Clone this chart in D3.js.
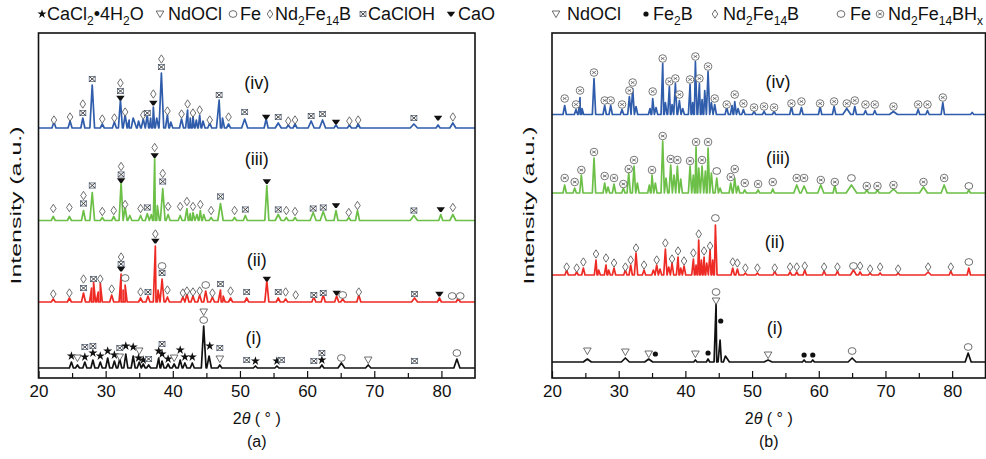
<!DOCTYPE html>
<html><head><meta charset="utf-8">
<script src="https://cdn.jsdelivr.net/npm/d3@7"></script>
<style>
body{margin:0;background:#fff;}
svg text{font-family:"Liberation Sans",Arial,sans-serif;fill:#111;}
</style></head><body>
<svg id="chart" width="986" height="459"></svg>
<script>
// x axis
const xTicks = [20, 30, 40, 50, 60, 70, 80];
const xMinor = [25, 35, 45, 55, 65, 75];
const traceNames = ["(i)", "(ii)", "(iii)", "(iv)"];
const traceColors = ["#111111", "#ee2a24", "#6cbf47", "#2f5cab"];

// vertical offsets of the stacked patterns (a.u.)
const offsetsA = [10, 76, 157.5, 250];
const offsetsB = [16, 103, 185, 263.5];

// peaks: [2theta, height, half width]
const peaksA1 = [[24.9,6],[25.8,3],[26.9,6],[28.1,8],[29.2,6],[30.3,10],[31.3,7],[32.1,9],[33.0,14],[34.1,12],[35.0,6],[35.6,4],[36.4,3],[37.9,10],[38.4,7],[39.3,4],[40.2,4],[41.1,8],[41.8,5],[42.9,5],[44.6,42,0.35],[45.4,12,0.35],[47.0,3],[52.3,2],[55.5,2],[62.2,3],[65.1,5,0.5],[69.1,3,0.4],[82.3,9,0.45]];
const peaksA2 = [[22.2,3],[24.6,4],[26.7,9],[27.9,14],[28.2,20],[28.9,10],[29.2,19],[30.9,7],[32.3,28],[32.6,12],[32.9,17],[35.2,4],[36.3,6],[37.4,56],[37.8,12],[38.4,23],[39.2,5],[41.5,5],[42.1,8],[43.0,6],[44.0,7],[44.9,11],[45.9,5],[47.1,12,0.35],[47.5,6],[48.6,4],[51.0,4],[54.0,21],[55.7,4],[56.8,3],[61.0,5],[62.4,7],[64.4,6],[65.3,3],[67.7,7],[76.0,4,0.45],[79.7,4],[82.5,4]];
const peaksA3 = [[22.2,4],[24.6,4],[26.7,10],[28.0,28,0.35],[29.5,3],[31.2,4],[32.3,38],[32.9,13],[33.6,5],[35.2,5],[36.2,7],[36.8,6],[37.3,62],[37.7,15],[38.5,32,0.35],[39.3,6],[41.1,5],[42.1,12],[42.6,7],[43.0,8],[43.6,6],[44.1,10],[44.6,6],[45.7,3],[47.1,17,0.4],[49.2,3],[50.8,5],[54.0,35],[55.7,6,0.45],[56.9,3],[58.2,3],[60.9,8,0.45],[62.4,9,0.45],[64.3,10],[66.2,3],[67.5,10],[75.9,5,0.55],[79.9,6],[81.7,6,0.45]];
const peaksA4 = [[22.3,6],[24.7,7],[26.6,10],[28.0,43,0.35],[29.5,4],[31.3,6],[32.2,28],[32.9,13],[33.5,8],[34.1,10,0.6],[34.9,7],[35.6,9],[36.2,13],[36.7,10],[37.1,21],[37.6,10],[38.3,55,0.35],[39.2,13],[39.7,6],[41.3,9],[42.2,18],[42.6,10],[43.0,12],[43.5,8],[44.0,13],[44.5,7],[45.5,5],[46.9,28,0.4],[47.4,10],[48.3,4],[50.7,9,0.45],[53.9,9],[55.7,5,0.45],[57.2,3],[58.2,4],[60.6,7,0.45],[62.3,8,0.45],[64.3,3],[66.3,3],[67.6,4],[75.9,4,0.55],[79.5,3],[81.7,5,0.45]];

const peaksB1 = [[25.3,3,0.6],[31.0,4,0.6],[34.5,3,0.6],[41.5,2],[43.4,3],[44.6,58,0.3],[45.2,22,0.5],[46.0,6,0.6],[52.4,2,0.6],[57.8,2],[59.1,2],[65.0,4,0.6],[82.4,9,0.45]];
const peaksB2 = [[22.2,5],[23.7,3],[24.7,7],[26.6,15],[27.0,5],[28.1,10],[28.5,5],[29.3,7],[31.0,5],[31.8,10],[32.6,22],[33.8,5],[35.2,5],[35.7,10],[36.2,6],[37.0,26],[37.5,8],[38.0,12],[38.9,18],[39.3,7],[39.8,9],[41.2,16],[41.6,10],[42.0,35],[42.4,15],[42.8,18],[43.2,12],[43.7,25],[44.1,15],[44.5,50],[47.1,7],[47.8,6],[49.0,2],[50.8,2],[53.4,4],[55.7,3],[56.7,3],[57.9,5],[60.8,4],[62.8,4],[65.2,5,0.45],[66.2,3],[67.7,2],[69.2,2],[71.9,2],[76.4,3,0.45],[79.8,4],[82.5,7]];
const peaksB3 = [[21.9,8],[23.4,5],[24.4,18],[26.3,35],[27.9,10],[28.4,6],[29.3,9],[30.7,5],[31.5,20],[32.3,27],[32.8,10],[34.6,8],[35.0,18],[35.5,10],[36.6,52],[37.1,15],[37.8,28],[38.3,18],[38.8,27],[39.3,14],[40.7,27],[41.2,18],[41.6,46],[42.0,25],[42.5,27],[43.0,22],[43.4,45],[43.9,20],[44.7,15],[45.2,5],[46.8,10],[47.4,15],[47.9,7],[48.9,3],[50.9,3],[53.1,4],[56.7,8,0.45],[57.8,7,0.45],[60.3,8,0.45],[62.4,8],[64.9,8,0.8],[67.2,4],[68.8,4],[71.2,4,0.6],[75.7,6,0.6],[78.8,8,0.45],[82.5,3]];
const peaksB4 = [[21.9,9],[23.6,5],[24.2,17],[24.5,6],[26.3,36],[27.9,9],[28.8,9],[30.5,5],[31.6,18],[32.1,26],[32.6,8],[34.7,6],[35.1,16],[35.6,7],[36.6,51],[37.0,12],[37.6,28],[38.0,10],[38.5,31],[39.1,14],[39.6,6],[40.7,30],[41.1,12],[41.5,53],[42.1,31],[42.5,15],[42.9,24],[43.4,43],[43.9,12],[44.4,10],[46.2,7],[47.0,9],[47.4,13],[47.9,6],[48.7,5],[50.3,3],[51.8,3],[53.3,3],[55.9,8],[57.4,7],[60.2,8],[62.3,8],[64.2,6,0.6],[65.4,8],[67.0,4],[68.4,4],[71.2,3,0.6],[74.9,5],[76.3,4],[78.6,12],[83.0,2]];

// phase marks: [2theta, height above pattern baseline, phase]
// S CaCl2·4H2O, T NdOCl, O Fe, D Nd2Fe14B, X CaClOH, V CaO, B Fe2B, H Nd2Fe14BHx
const marksA1 = [[24.9,12,"S"],[25.8,10,"T"],[26.9,11,"S"],[26.9,21,"X"],[28.1,15,"S"],[28.1,22,"X"],[29.2,12,"S"],[30.3,17,"S"],[31.3,13,"S"],[32.1,11,"T"],[32.1,20,"X"],[33.0,22,"S"],[34.1,21,"S"],[34.9,10,"S"],[35.0,17,"T"],[35.6,8,"S"],[36.4,9,"X"],[37.9,17,"S"],[38.4,14,"S"],[38.4,24,"X"],[39.3,9,"S"],[40.2,10,"T"],[41.1,18,"S"],[41.8,11,"S"],[42.9,11,"S"],[44.6,48,"O"],[44.6,56,"T"],[45.5,22,"S"],[47.0,9,"T"],[47.0,20,"X"],[51.0,8,"X"],[52.3,7,"S"],[55.5,7,"S"],[56.2,8,"X"],[61.0,7,"X"],[62.2,8,"S"],[62.2,15,"X"],[65.1,10,"O"],[69.1,8,"T"],[76.0,7,"X"],[82.3,15,"O"]];
const marksA2 = [[22.2,8,"D"],[24.6,9,"D"],[26.7,14,"X"],[26.7,23,"D"],[28.2,23,"X"],[29.2,23,"D"],[30.9,13,"D"],[32.3,33,"V"],[32.3,38,"X"],[32.3,45,"D"],[32.9,24,"O"],[35.2,10,"D"],[36.3,10,"X"],[37.4,61,"V"],[37.4,68,"D"],[38.4,29,"X"],[38.4,36,"O"],[39.2,12,"D"],[41.5,9,"D"],[42.1,11,"D"],[43.0,10,"D"],[44.0,11,"D"],[44.9,17,"O"],[45.9,9,"D"],[47.1,18,"X"],[48.6,11,"D"],[51.0,10,"X"],[54.0,23,"V"],[55.7,10,"X"],[56.8,10,"D"],[58.3,7,"D"],[61.0,7,"X"],[62.4,9,"X"],[64.4,9,"V"],[65.3,7,"O"],[67.7,10,"D"],[76.0,8,"X"],[79.7,8,"V"],[81.6,6,"O"],[82.8,6,"O"]];
const marksA3 = [[22.2,12,"D"],[24.6,13,"D"],[26.7,17,"X"],[26.7,25,"D"],[28.0,35,"X"],[29.5,9,"D"],[31.2,10,"D"],[32.3,40,"V"],[32.3,46,"X"],[32.3,54,"D"],[32.9,16,"D"],[35.2,12,"D"],[36.2,13,"X"],[37.3,65,"V"],[37.3,73,"D"],[38.5,39,"X"],[38.5,47,"D"],[39.3,14,"D"],[41.1,14,"D"],[42.1,19,"D"],[43.0,14,"D"],[44.1,16,"D"],[45.7,10,"D"],[47.1,24,"X"],[49.2,10,"D"],[50.8,11,"X"],[54.0,39,"V"],[55.7,11,"X"],[56.9,10,"D"],[58.2,9,"D"],[60.9,12,"X"],[62.4,13,"X"],[64.3,15,"V"],[66.2,8,"D"],[67.5,15,"D"],[75.9,10,"X"],[79.9,11,"V"],[81.7,13,"D"]];
const marksA4 = [[22.3,8,"D"],[24.7,11,"D"],[26.6,15,"X"],[26.6,24,"D"],[28.0,49,"X"],[29.5,9,"D"],[31.3,10,"D"],[32.2,30,"V"],[32.2,37,"X"],[32.2,45,"D"],[32.9,16,"D"],[35.6,13,"D"],[36.2,15,"X"],[37.1,25,"V"],[37.1,34,"D"],[38.3,61,"X"],[38.3,69,"D"],[39.2,17,"D"],[41.3,14,"D"],[42.2,24,"D"],[43.0,15,"D"],[44.0,18,"D"],[45.5,8,"D"],[46.9,33,"X"],[48.3,11,"D"],[50.7,16,"X"],[53.9,11,"V"],[55.7,11,"X"],[57.2,7,"D"],[58.2,8,"D"],[60.6,12,"X"],[62.3,14,"X"],[64.3,6,"V"],[66.3,7,"D"],[67.6,8,"D"],[75.9,10,"X"],[79.5,10,"V"],[81.7,11,"D"]];

const marksB1 = [[25.3,11,"T"],[31.0,10,"T"],[34.5,8,"T"],[35.5,8,"B"],[41.5,8,"T"],[43.4,9,"B"],[44.6,61,"T"],[44.6,70,"O"],[45.3,41,"B"],[52.4,7,"T"],[57.8,7,"B"],[59.1,7,"B"],[65.0,11,"O"],[82.4,15,"O"]];
const marksB2 = [[22.2,8,"D"],[23.7,7,"D"],[24.7,13,"D"],[26.6,21,"D"],[28.1,17,"D"],[29.3,12,"D"],[31.0,8,"D"],[31.8,15,"D"],[32.6,27,"D"],[33.8,10,"D"],[35.7,15,"D"],[37.0,32,"D"],[38.0,16,"D"],[38.9,24,"D"],[39.8,14,"D"],[41.2,22,"D"],[42.0,41,"D"],[42.8,24,"D"],[43.7,29,"D"],[44.5,57,"O"],[47.1,13,"D"],[47.8,12,"D"],[49.0,7,"D"],[50.8,7,"D"],[53.4,7,"D"],[55.7,8,"D"],[56.7,8,"D"],[57.9,9,"D"],[60.8,8,"D"],[62.8,8,"D"],[65.2,9,"O"],[66.2,9,"D"],[67.7,6,"D"],[69.2,8,"D"],[71.9,6,"D"],[76.4,8,"D"],[79.8,8,"D"],[82.5,13,"O"]];
const marksB3 = [[21.9,15,"H"],[23.4,11,"H"],[24.4,23,"H"],[26.3,41,"H"],[27.9,17,"H"],[29.3,15,"H"],[30.7,9,"H"],[31.5,24,"H"],[32.3,33,"H"],[35.0,23,"H"],[36.6,57,"H"],[37.8,34,"H"],[38.8,33,"H"],[40.7,32,"H"],[41.6,51,"H"],[42.5,33,"H"],[43.4,51,"H"],[44.7,22,"O"],[46.8,16,"H"],[47.4,24,"H"],[48.9,10,"H"],[50.9,9,"H"],[53.1,11,"H"],[56.7,15,"H"],[57.8,15,"H"],[60.3,13,"H"],[62.4,11,"H"],[64.9,15,"O"],[67.2,7,"H"],[68.8,7,"H"],[71.2,8,"H"],[75.7,11,"H"],[78.8,15,"H"],[82.5,7,"O"]];
const marksB4 = [[21.9,16,"H"],[23.6,10,"H"],[24.2,24,"H"],[26.3,42,"H"],[27.9,14,"H"],[28.8,14,"H"],[30.5,10,"H"],[31.6,24,"H"],[32.1,32,"H"],[35.1,23,"H"],[36.6,56,"H"],[37.6,33,"H"],[38.5,36,"H"],[39.1,20,"H"],[40.7,35,"H"],[41.5,58,"H"],[42.1,36,"H"],[43.4,48,"H"],[44.4,16,"H"],[46.2,10,"H"],[47.4,20,"H"],[48.7,11,"H"],[50.3,7,"H"],[51.8,8,"H"],[53.3,7,"H"],[55.9,11,"H"],[57.4,13,"H"],[60.2,11,"H"],[62.3,13,"H"],[64.2,11,"H"],[65.4,14,"H"],[67.0,10,"H"],[68.4,10,"H"],[71.2,8,"H"],[74.9,10,"H"],[76.3,10,"H"],[78.6,17,"H"]];

// pattern name positions [2theta, a.u.]
const namePosA = [[52.0,40],[52.5,118],[52.5,219],[52.5,295]];
const namePosB = [[53.4,50],[53.4,136],[53.9,220],[53.9,296]];

// legends: [symbol, text parts]  (parts: [string, isSub])
const legendA = [
  ["S", [["CaCl",0],["2",1],["\u20224H",0],["2",1],["O",0]]],
  ["T", [["NdOCl",0]]],
  ["O", [["Fe",0]]],
  ["D", [["Nd",0],["2",1],["Fe",0],["14",1],["B",0]]],
  ["X", [["CaClOH",0]]],
  ["V", [["CaO",0]]]
];
const legendB = [
  ["T", [["NdOCl",0]]],
  ["B", [["Fe",0],["2",1],["B",0]]],
  ["D", [["Nd",0],["2",1],["Fe",0],["14",1],["B",0]]],
  ["O", [["Fe",0]]],
  ["H", [["Nd",0],["2",1],["Fe",0],["14",1],["BH",0],["x",1]]]
];

const svg = d3.select("#chart");
const top0 = 33, bottom0 = 378;

function mark(g, t, cx, cy) {
  const ln = "#4a4a4a";
  if (t === "S") {
    g.append("path").attr("d", d3.symbol(d3.symbolStar, 26)())
      .attr("transform", `translate(${cx},${cy})`).attr("fill", "#111");
  } else if (t === "T") {
    g.append("path").attr("d", `M${cx-3.8},${cy-3}L${cx+3.8},${cy-3}L${cx},${cy+3.6}Z`)
      .attr("fill", "#fff").attr("stroke", ln).attr("stroke-width", 0.8);
  } else if (t === "O") {
    g.append("ellipse").attr("cx", cx).attr("cy", cy).attr("rx", 3.9).attr("ry", 3.4)
      .attr("fill", "#fff").attr("stroke", ln).attr("stroke-width", 0.8);
  } else if (t === "D") {
    g.append("path").attr("d", `M${cx},${cy-4.2}L${cx+2.8},${cy}L${cx},${cy+4.2}L${cx-2.8},${cy}Z`)
      .attr("fill", "#fff").attr("stroke", ln).attr("stroke-width", 0.8);
  } else if (t === "X") {
    g.append("rect").attr("x", cx-3).attr("y", cy-2.6).attr("width", 6).attr("height", 5.2)
      .attr("fill", "#fff").attr("stroke", "#5d6b80").attr("stroke-width", 0.8);
    g.append("path").attr("d", `M${cx-3},${cy-2.6}L${cx+3},${cy+2.6}M${cx+3},${cy-2.6}L${cx-3},${cy+2.6}`)
      .attr("stroke", "#333").attr("stroke-width", 0.9);
  } else if (t === "V") {
    g.append("path").attr("d", `M${cx-4.2},${cy-2.2}L${cx+4.2},${cy-2.2}L${cx+0.8},${cy+2.6}L${cx-0.8},${cy+2.6}Z`)
      .attr("fill", "#111");
  } else if (t === "B") {
    g.append("circle").attr("cx", cx).attr("cy", cy).attr("r", 2.6).attr("fill", "#111");
  } else if (t === "H") {
    g.append("circle").attr("cx", cx).attr("cy", cy).attr("r", 3.8)
      .attr("fill", "#fff").attr("stroke", "#555").attr("stroke-width", 0.8);
    g.append("path").attr("d", `M${cx-1.8},${cy-1.2}L${cx+1.8},${cy+1.2}M${cx-1.8},${cy+1.2}L${cx+1.8},${cy-1.2}`)
      .attr("stroke", "#555").attr("stroke-width", 0.8);
  }
}

function vertices(peaks, w0) {
  const pts = [[20, 0], [85, 0]];
  peaks.forEach(p => {
    const w = p[2] || w0;
    pts.push([p[0] - w, 0], [p[0], p[1]], [p[0] + w, 0]);
  });
  pts.sort((a, b) => a[0] - b[0]);
  return pts;
}

function drawPanel(id, left, right, allPeaks, allMarks, offsets, namePos, w0, tag) {
  const x = d3.scaleLinear().domain([20, 85]).range([left, right]);
  const y = d3.scaleLinear().domain([0, 345]).range([bottom0, top0]);
  const g = svg.append("g");

  g.append("clipPath").attr("id", "clip" + id).append("rect")
    .attr("x", left).attr("y", top0).attr("width", right - left).attr("height", bottom0 - top0);

  allPeaks.forEach((pk, i) => {
    const line = d3.line().x(d => x(d[0])).y(d => y(offsets[i] + d[1]));
    g.append("path").datum(vertices(pk, w0))
      .attr("clip-path", `url(#clip${id})`)
      .attr("fill", "none").attr("stroke", traceColors[i])
      .attr("stroke-width", 1.7).attr("stroke-linejoin", "round")
      .attr("d", line);
  });

  const mg = g.append("g");
  allMarks.forEach((mk, i) => {
    mk.forEach(m => mark(mg, m[2], x(m[0]), y(offsets[i] + m[1])));
  });

  namePos.forEach((p, i) => {
    g.append("text").attr("x", x(p[0])).attr("y", y(p[1])).attr("dy", "0.35em")
      .attr("text-anchor", "middle").attr("font-size", 18).attr("fill", "#222")
      .text(traceNames[i]);
  });

  // axis with inward ticks
  g.append("g").attr("transform", `translate(0,${bottom0})`)
    .call(d3.axisBottom(x).tickValues(xTicks).tickSizeInner(-7).tickSizeOuter(0).tickPadding(7))
    .call(a => a.select(".domain").remove())
    .call(a => a.selectAll("line").attr("stroke", "#111").attr("stroke-width", 1.2))
    .call(a => a.selectAll("text").attr("font-size", 17).attr("fill", "#111")
      .style("font-family", '"Liberation Sans",Arial,sans-serif'));
  g.append("g").attr("transform", `translate(0,${bottom0})`)
    .call(d3.axisBottom(x).tickValues(xMinor).tickSizeInner(-5).tickSizeOuter(0).tickFormat(""))
    .call(a => a.select(".domain").remove())
    .call(a => a.selectAll("line").attr("stroke", "#111").attr("stroke-width", 1.2));

  g.append("rect").attr("x", left).attr("y", top0).attr("width", right - left).attr("height", bottom0 - top0)
    .attr("fill", "none").attr("stroke", "#111").attr("stroke-width", 1.6);

  const cx = (left + right) / 2;
  const xl = g.append("text").attr("x", cx).attr("y", 424).attr("text-anchor", "middle").attr("font-size", 16);
  xl.append("tspan").text("2");
  xl.append("tspan").attr("font-style", "italic").text("\u03b8");
  xl.append("tspan").text(" ( \u00b0 )");
  g.append("text").attr("x", cx).attr("y", 447).attr("text-anchor", "middle").attr("font-size", 16).text(tag);

  g.append("text").attr("transform", `translate(${left - 18},${(top0 + bottom0) / 2}) rotate(-90)`)
    .attr("text-anchor", "middle").attr("font-size", 15)
    .attr("textLength", 158).attr("lengthAdjust", "spacingAndGlyphs")
    .text("Intensity (a.u.)");
}

function drawLegend(items, xs) {
  items.forEach((it, i) => {
    mark(svg, it[0], xs[i][0], 14);
    const t = svg.append("text").attr("x", xs[i][1]).attr("y", 20).attr("font-size", 18);
    let sub = false;
    it[1].forEach(p => {
      const isSub = !!p[1];
      const dy = isSub ? (sub ? 0 : 5) : (sub ? -5 : 0);
      sub = isSub;
      t.append("tspan").attr("font-size", isSub ? 12 : 18).attr("dy", dy).text(p[0]);
    });
  });
}

drawPanel("a", 38.5, 475, [peaksA1, peaksA2, peaksA3, peaksA4], [marksA1, marksA2, marksA3, marksA4], offsetsA, namePosA, 0.3, "(a)");
drawPanel("b", 552, 985.5, [peaksB1, peaksB2, peaksB3, peaksB4], [marksB1, marksB2, marksB3, marksB4], offsetsB, namePosB, 0.25, "(b)");

drawLegend(legendA, [[42, 47], [160, 168], [233, 240], [270, 275], [363, 368], [451, 458]]);
drawLegend(legendB, [[556, 567], [646, 653], [715, 723], [841, 850], [880, 888]]);
</script></body></html>
